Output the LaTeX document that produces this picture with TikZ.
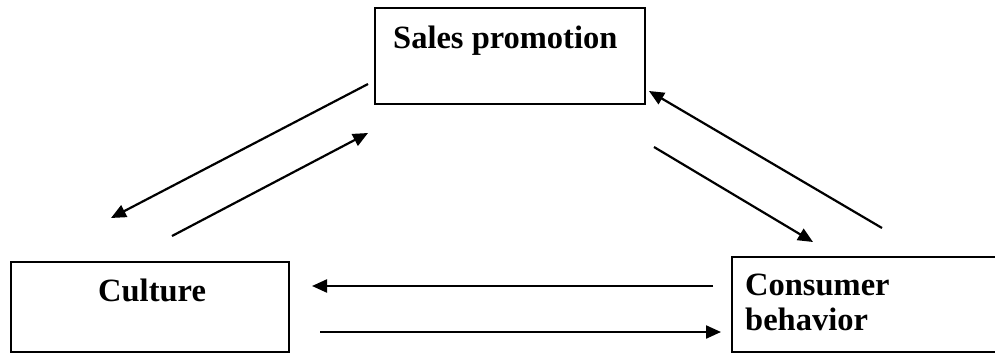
\documentclass[tikz,border=0pt]{standalone}
\usepackage{fontspec}
\setmainfont{Liberation Serif}
\usetikzlibrary{arrows.meta}
\begin{document}
\begin{tikzpicture}[x=1pt,y=-1pt,
  box/.style={draw,line width=2pt,inner sep=0pt},
  lbl/.style={anchor=base west,inner sep=0pt,font=\fontsize{32.5}{36}\selectfont\bfseries},
  arr/.style={line width=2.2pt,-{Triangle[length=15pt,width=13pt]}}]
\useasboundingbox (0,0) rectangle (995,354);
\fill[white] (0,0) rectangle (995,354);
% boxes
\draw[box] (375,8) rectangle (645,104);
\draw[box] (11,262) rectangle (289,352);
\draw[box] (732,257) rectangle (1005,352);
% labels
\node[lbl] (sp) at (393,48) {Sales promotion};
\node[lbl] (cu) at (98,301) {Culture};
\node[lbl] (cb1) at (745,295) {Consumer};
\node[lbl] (cb2) at (745,330) {behavior};
% arrow endpoints
\coordinate (a1s) at (368,84);  \coordinate (a1e) at (111,218);
\coordinate (a2s) at (172,236); \coordinate (a2e) at (368,133);
\coordinate (a3s) at (882,228); \coordinate (a3e) at (649,91);
\coordinate (a4s) at (654,147); \coordinate (a4e) at (813,242);
\coordinate (a5s) at (713,286); \coordinate (a5e) at (312,286);
\coordinate (a6s) at (320,332); \coordinate (a6e) at (721,332);
\draw[arr] (a1s) -- (a1e);
\draw[arr] (a2s) -- (a2e);
\draw[arr] (a3s) -- (a3e);
\draw[arr] (a4s) -- (a4e);
\draw[arr] (a5s) -- (a5e);
\draw[arr] (a6s) -- (a6e);
\end{tikzpicture}
\end{document}
